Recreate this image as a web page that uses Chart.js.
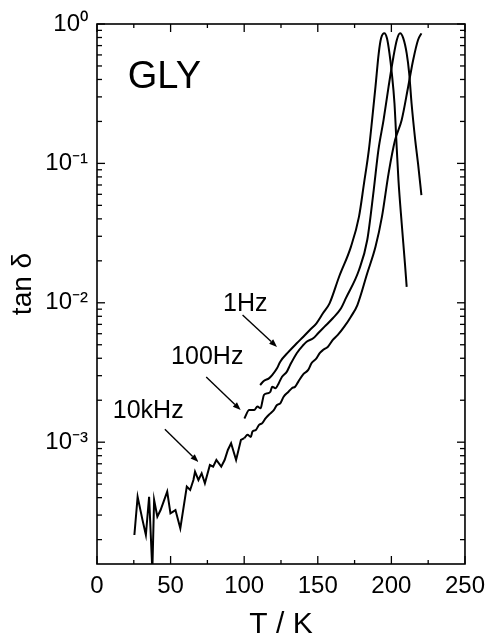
<!DOCTYPE html>
<html><head><meta charset="utf-8">
<script src="https://cdn.jsdelivr.net/npm/chart.js@4/dist/chart.umd.min.js"></script>
<style>html,body{margin:0;padding:0;background:#fff;}</style>
</head><body>
<canvas id="c" width="493" height="638"></canvas>
<script>
// ---- data (T in K, tan delta) ----
const T_1Hz   = [110.8,113.5,116.8,119.0,122.3,124.5,130.1,135.7,140.2,144.6,149.1,153.5,158.0,164.6,172.5,178.0,181.4,184.7,186.9,189.2,191.4,193.0,195.2,197.0,198.7,200.3,202.1,203.7,204.8,207.0,209.2,210.4];
const tan_1Hz = [2.57e-3,2.76e-3,2.87e-3,3.03e-3,3.39e-3,3.78e-3,4.44e-3,5.12e-3,5.71e-3,6.38e-3,7.13e-3,8.41e-3,9.91e-3,1.55e-2,2.52e-2,4.15e-2,7.19e-2,0.125,0.205,0.355,0.616,0.789,0.857,0.789,0.616,0.443,0.270,0.125,0.076,0.0372,0.0192,0.0130];

const T_100Hz   = [100.1,103.4,106.8,109.0,111.2,112.3,113.4,115.6,117.8,119.0,121.2,123.5,125.7,129.0,131.2,135.7,140.2,142.4,146.9,150.2,154.6,160.2,165.8,169.1,178.0,183.6,188.0,191.2,194.7,198.1,201.4,203.7,205.9,208.1,210.4,212.1,213.7,216.2,218.1,220.4];
const tan_100Hz = [1.48e-3,1.70e-3,1.70e-3,1.80e-3,1.75e-3,1.95e-3,2.18e-3,2.24e-3,2.30e-3,2.50e-3,2.44e-3,2.65e-3,2.95e-3,3.21e-3,3.58e-3,4.35e-3,4.98e-3,5.26e-3,5.56e-3,6.04e-3,6.74e-3,7.75e-3,9.14e-3,1.08e-2,1.72e-2,2.82e-2,6.44e-2,0.125,0.205,0.355,0.582,0.768,0.857,0.789,0.616,0.443,0.270,0.147,0.100,0.0593];

const T_10kHz   = [25.4,27.6,30.9,33.2,35.4,37.6,38.8,41.0,43.2,47.7,49.9,53.3,56.6,61.0,63.3,65.5,66.6,68.9,71.1,73.3,76.7,78.9,81.1,84.4,86.7,88.9,91.1,94.5,97.8,100.1,102.3,104.5,105.6,107.8,110.1,112.3,114.5,117.8,120.1,122.3,124.5,126.8,130.1,132.4,134.6,136.8,140.2,143.5,145.7,149.1,151.3,153.5,156.9,160.2,163.6,168.0,172.5,176.9,183.6,189.2,193.6,198.1,202.5,207.0,211.4,214.8,218.1,220.4];
const tan_10kHz = [2.16e-4,4.06e-4,2.77e-4,2.16e-4,4.06e-4,1.2e-4,3.85e-4,2.92e-4,3.26e-4,4.42e-4,3.09e-4,3.26e-4,2.41e-4,4.80e-4,4.54e-4,5.36e-4,6.14e-4,5.36e-4,5.98e-4,5.07e-4,6.86e-4,6.67e-4,7.45e-4,6.67e-4,7.45e-4,8.79e-4,9.82e-4,7.45e-4,1.04e-3,1.07e-3,1.13e-3,1.09e-3,1.19e-3,1.22e-3,1.33e-3,1.37e-3,1.48e-3,1.61e-3,1.70e-3,1.85e-3,1.90e-3,2.12e-3,2.30e-3,2.44e-3,2.50e-3,2.72e-3,3.08e-3,3.30e-3,3.68e-3,4.00e-3,4.35e-3,4.58e-3,4.84e-3,5.41e-3,5.88e-3,6.74e-3,7.95e-3,9.64e-3,1.63e-2,2.52e-2,4.15e-2,8.49e-2,0.147,0.205,0.355,0.552,0.768,0.857];
// below this temperature the 10kHz trace is noisy and drawn with straight segments
const T_noisyEnd = 100.1;

// ---- axes ----
const xMin = 0, xMax = 250;
const xTicks = [0,50,100,150,200,250];
const xMinorTicks = [25,75,125,175,225];
const yMin = 1.337e-4, yMax = 1;
const yTicks = [1e-3,1e-2,1e-1,1];
const yTickLabels = ['10\u207B\u00B3','10\u207B\u00B2','10\u207B\u00B9','10\u2070'];
const xTitle = 'T / K';
const yTitle = 'tan \u03B4';

// ---- annotations (data coordinates) ----
const labelTexts = ['1Hz','100Hz','10kHz','GLY'];
const labelX = [100.7, 74.9, 34.8, 45.8];
const labelY = [9.8e-3, 4.08e-3, 1.67e-3, 0.41];
const arrowFromX = [98.9, 74.2, 46.1];
const arrowFromY = [8.18e-3, 2.94e-3, 1.24e-3];
const arrowToX = [122.3, 97.6, 68.9];
const arrowToY = [4.82e-3, 1.70e-3, 7.21e-4];

const FONT = "'Liberation Sans', Arial, Helvetica, sans-serif";
const mk = (T, v) => T.map((t, i) => ({x: t, y: v[i]}));
const lineDs = (label, pts, smooth) => Object.assign(
  {label, data: pts, borderColor: '#000', borderWidth: 2, pointRadius: 0, fill: false},
  smooth ? {cubicInterpolationMode: 'monotone'} : {tension: 0});
const pts10k = mk(T_10kHz, tan_10kHz);

const decor = {
  id: 'decor',
  afterDraw(chart) {
    const {ctx, chartArea: a, scales: {x, y}} = chart;
    ctx.save();
    ctx.strokeStyle = '#000';
    ctx.fillStyle = '#000';
    ctx.lineWidth = 1.6;
    ctx.strokeRect(a.left, a.top, a.right - a.left, a.bottom - a.top);
    ctx.lineWidth = 1.3;
    const tick = (x1, y1, x2, y2) => { ctx.beginPath(); ctx.moveTo(x1, y1); ctx.lineTo(x2, y2); ctx.stroke(); };
    xTicks.forEach(v => { const px = x.getPixelForValue(v); tick(px, a.bottom, px, a.bottom - 8); tick(px, a.top, px, a.top + 8); });
    xMinorTicks.forEach(v => { const px = x.getPixelForValue(v); tick(px, a.bottom, px, a.bottom - 4); tick(px, a.top, px, a.top + 4); });
    yTicks.forEach(v => { const py = y.getPixelForValue(v); tick(a.left, py, a.left + 8, py); tick(a.right, py, a.right - 8, py); });
    for (let e = -4; e < 0; e++) {
      for (let k = 2; k <= 9; k++) {
        const v = k * Math.pow(10, e);
        if (v < yMin || v > yMax) continue;
        const py = y.getPixelForValue(v);
        tick(a.left, py, a.left + 5, py); tick(a.right, py, a.right - 5, py);
      }
    }
    ctx.lineWidth = 1.4;
    arrowFromX.forEach((fx, i) => {
      const x1 = x.getPixelForValue(fx), y1 = y.getPixelForValue(arrowFromY[i]);
      const x2 = x.getPixelForValue(arrowToX[i]), y2 = y.getPixelForValue(arrowToY[i]);
      const ang = Math.atan2(y2 - y1, x2 - x1);
      const L = 8, W = 3;
      const bx = x2 - L * Math.cos(ang), by = y2 - L * Math.sin(ang);
      tick(x1, y1, bx, by);
      ctx.beginPath();
      ctx.moveTo(x2, y2);
      ctx.lineTo(bx + W * Math.sin(ang), by - W * Math.cos(ang));
      ctx.lineTo(bx - W * Math.sin(ang), by + W * Math.cos(ang));
      ctx.closePath(); ctx.fill();
    });
    ctx.textAlign = 'center'; ctx.textBaseline = 'middle';
    labelTexts.forEach((t, i) => {
      ctx.font = (t === 'GLY' ? '38px ' : '25px ') + FONT;
      ctx.fillText(t, x.getPixelForValue(labelX[i]), y.getPixelForValue(labelY[i]));
    });
    ctx.font = '30px ' + FONT;
    ctx.fillText(xTitle, (a.left + a.right) / 2, a.bottom + 61);
    ctx.save();
    ctx.translate(a.left - 74, (a.top + a.bottom) / 2 - 10);
    ctx.rotate(-Math.PI / 2);
    ctx.font = '28px ' + FONT;
    ctx.fillText(yTitle, 0, 0);
    ctx.restore();
    ctx.restore();
  }
};

new Chart(document.getElementById('c'), {
  type: 'line',
  data: { datasets: [
    lineDs('1Hz', mk(T_1Hz, tan_1Hz), true),
    lineDs('100Hz', mk(T_100Hz, tan_100Hz), true),
    lineDs('10kHz', pts10k.filter(p => p.x <= T_noisyEnd), false),
    lineDs('10kHz ', pts10k.filter(p => p.x >= T_noisyEnd), true)
  ]},
  options: {
    responsive: false, animation: false, devicePixelRatio: 1,
    layout: { padding: { top: 24, right: 22, left: 0, bottom: 0 } },
    plugins: { legend: { display: false }, tooltip: { enabled: false } },
    scales: {
      x: {
        type: 'linear', min: xMin, max: xMax,
        afterBuildTicks: s => { s.ticks = xTicks.map(v => ({value: v})); },
        afterFit: s => { s.height = 74; },
        grid: { display: false, drawTicks: false },
        border: { display: false },
        ticks: { color: '#000', font: { size: 24, family: FONT }, padding: 8, maxRotation: 0, autoSkip: false, callback: v => String(v) }
      },
      y: {
        type: 'logarithmic', min: yMin, max: yMax,
        afterBuildTicks: s => { s.ticks = yTicks.map(v => ({value: v})); },
        afterFit: s => { s.width = 97; },
        grid: { display: false, drawTicks: false },
        border: { display: false },
        ticks: { color: '#000', font: { size: 24, family: FONT }, padding: 9, autoSkip: false, callback: (v, i) => yTickLabels[i] }
      }
    }
  },
  plugins: [decor]
});
</script>
</body></html>
